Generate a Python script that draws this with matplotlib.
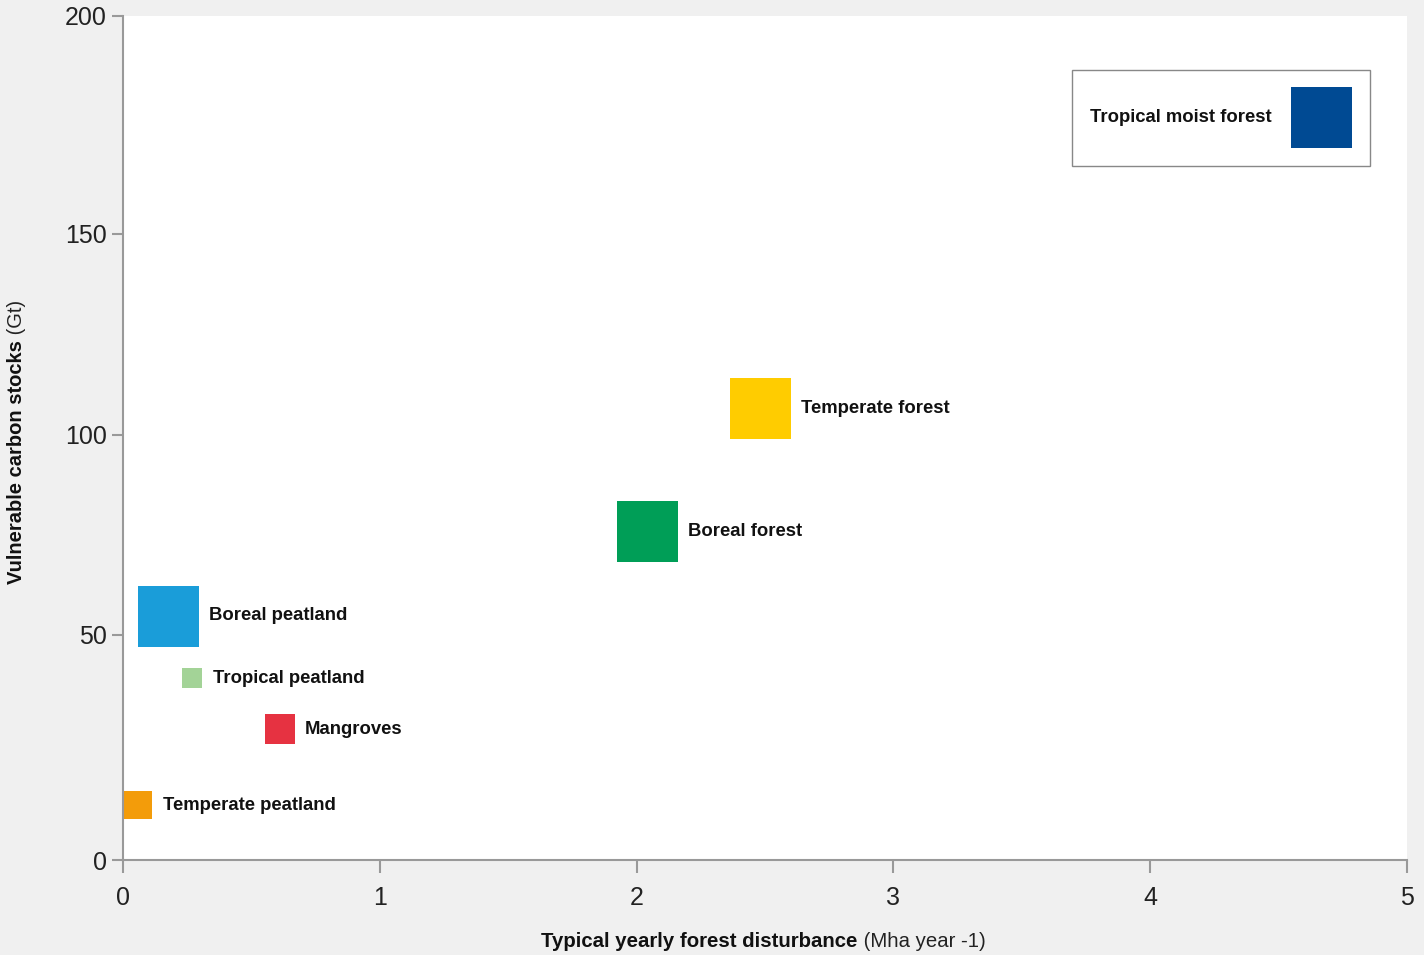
import numpy as np
import matplotlib.pyplot as plt
from matplotlib.patches import Rectangle
from matplotlib.offsetbox import AnchoredOffsetbox, HPacker, TextArea, DrawingArea

plt.rcParams['font.family'] = ['Liberation Sans', 'DejaVu Sans']

# Datos
categorias = ["Temperate forest", "Boreal forest", "Boreal peatland",
              "Tropical peatland", "Mangroves", "Temperate peatland"]
perturbacion = [2.48, 2.04, 0.175, 0.27, 0.61, 0.06]
carbono = [106.7, 76.0, 54.8, 40.4, 29.1, 12.2]
colores = ["#ffcc00", "#009e57", "#1a9dd9", "#a3d397", "#e63241", "#f39c0a"]
lado_px = [61, 61, 61, 20, 30, 28]

etiqueta_extra = "Tropical moist forest"
color_extra = "#004a93"

# escala del eje y (posicion de las marcas en el original)
y_marcas = [0, 50, 100, 150, 200]
y_pos = [0, 225, 425, 626, 844]
xs = [-2000] + y_marcas + [2200]
ps = [-2000 * 225 / 50] + y_pos + [844 + 2000 * 218 / 50]

def adelante(v):
    return np.interp(v, xs, ps)

def atras(p):
    return np.interp(p, ps, xs)

fig = plt.figure(figsize=(14.24, 9.55), dpi=100, facecolor="#f0f0f0")
ax = fig.add_axes([123 / 1424, 95 / 955, 1284 / 1424, 844 / 955])
ax.set_facecolor("white")
ax.set_yscale("function", functions=(adelante, atras))
ax.set_xlim(0, 5)
ax.set_ylim(0, 200)

for nombre, x, y, c, s in zip(categorias, perturbacion, carbono, colores, lado_px):
    ms = s * 0.72
    ax.plot([x], [y], marker="s", ms=ms, color=c, mew=0, ls="none", clip_on=False)
    ax.annotate(nombre, (x, y), xytext=(ms / 2 + 7.5, 0), textcoords="offset points",
                ha="left", va="center", fontsize=13.3, fontweight="bold", color="#111111")

# Recuadro tipo leyenda
lado = 61 * 0.72
cuadro = DrawingArea(lado, lado, 0, 0)
cuadro.add_artist(Rectangle((0, 0), lado, lado, fc=color_extra, ec="none"))
texto = TextArea(etiqueta_extra, textprops=dict(fontsize=13.3, fontweight="bold",
                                                color="#111111"))
fila = HPacker(children=[texto, cuadro], align="center", pad=0, sep=14.4)
caja = AnchoredOffsetbox(loc="upper right", child=fila, pad=1.25, borderpad=0,
                         frameon=True, prop=dict(size=10),
                         bbox_to_anchor=(0.971, 0.936), bbox_transform=ax.transAxes)
caja.patch.set_boxstyle("square", pad=0)
caja.patch.set_edgecolor("#888888")
caja.patch.set_linewidth(1.0)
ax.add_artist(caja)

# Ejes
for l in ["top", "right"]:
    ax.spines[l].set_visible(False)
for l in ["left", "bottom"]:
    ax.spines[l].set_color("#999999")
    ax.spines[l].set_linewidth(1.5)
ax.set_xticks([0, 1, 2, 3, 4, 5])
ax.set_yticks(y_marcas)
ax.tick_params(colors="#999999", width=1.5, length=8, labelsize=18, labelcolor="#222222")
ax.tick_params(axis="x", length=9, pad=10)

# Etiquetas de los ejes (parte en negrita + parte normal)
fig.canvas.draw()
r = fig.canvas.get_renderer()

tb = fig.text(0, 14 / 955, "Typical yearly forest disturbance", fontsize=14.7,
              fontweight="bold", ha="left", va="center", color="#111111")
tn = fig.text(0, 14 / 955, " (Mha year -1)", fontsize=14.7, ha="left",
              va="center", color="#222222")
wb = tb.get_window_extent(r).width
wn = tn.get_window_extent(r).width
x0 = 763.5 - (wb + wn) / 2
tb.set_x(x0 / 1424)
tn.set_x((x0 + wb) / 1424)

yb = fig.text(17 / 1424, 0, "Vulnerable carbon stocks", fontsize=14.5, fontweight="bold",
              rotation=90, ha="center", va="bottom", color="#111111")
yn = fig.text(17 / 1424, 0, " (Gt)", fontsize=14.5, rotation=90, ha="center",
              va="bottom", color="#222222")
hb = yb.get_window_extent(r).height
hn = yn.get_window_extent(r).height
y0 = (955 - 441.5) - (hb + hn) / 2
yb.set_y(y0 / 955)
yn.set_y((y0 + hb) / 955)

fig.savefig("out.png", dpi=100, facecolor=fig.get_facecolor())
